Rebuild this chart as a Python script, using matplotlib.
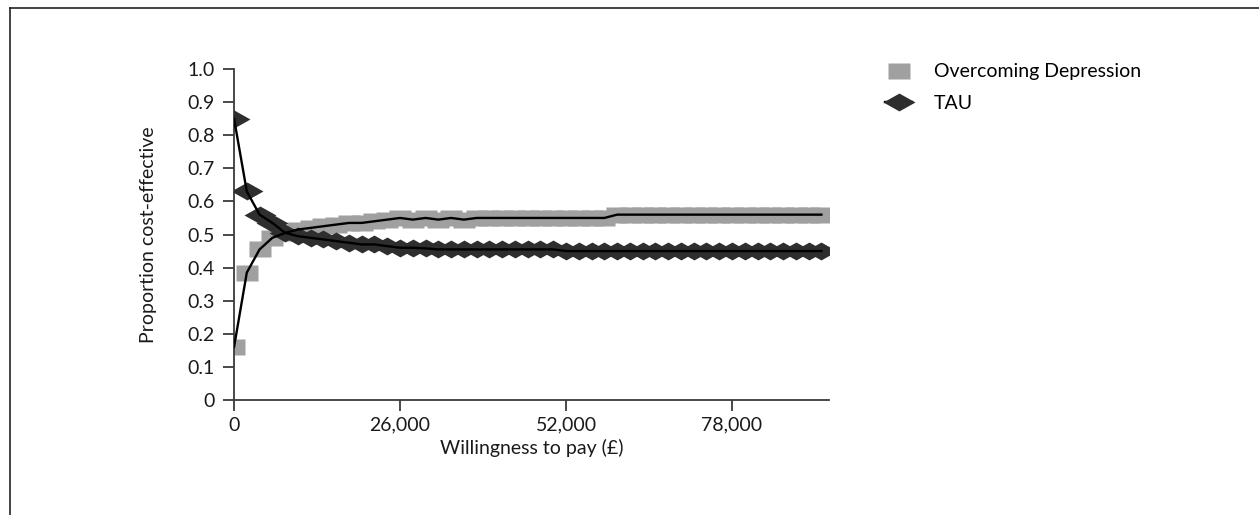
import matplotlib
matplotlib.use("Agg")
import matplotlib.pyplot as plt
from matplotlib.lines import Line2D

plt.rcParams['font.family'] = ['Lato', 'DejaVu Sans']

# willingness to pay (GBP), one point per 2,000
wtp = list(range(0, 92001, 2000))

overcoming = [0.16, 0.385, 0.455, 0.49, 0.505, 0.515, 0.52, 0.525, 0.53, 0.535,
              0.535, 0.54, 0.545, 0.55, 0.545, 0.55, 0.545, 0.55, 0.545, 0.55,
              0.55, 0.55, 0.55, 0.55, 0.55, 0.55, 0.55, 0.55, 0.55, 0.55,
              0.56, 0.56, 0.56, 0.56, 0.56, 0.56, 0.56, 0.56, 0.56, 0.56,
              0.56, 0.56, 0.56, 0.56, 0.56, 0.56, 0.56]

tau = [0.85, 0.63, 0.56, 0.535, 0.505, 0.495, 0.49, 0.485, 0.48, 0.475,
       0.47, 0.47, 0.465, 0.46, 0.46, 0.458,
       0.455, 0.455, 0.455, 0.455, 0.455, 0.455, 0.455, 0.455, 0.455, 0.455,
       0.45, 0.45, 0.45, 0.45, 0.45, 0.45, 0.45, 0.45, 0.45, 0.45, 0.45,
       0.45, 0.45, 0.45, 0.45, 0.45, 0.45, 0.45, 0.45, 0.45, 0.45]

xticks = [0, 26000, 52000, 78000]
yticks = [0, 0.1, 0.2, 0.3, 0.4, 0.5, 0.6, 0.7, 0.8, 0.9, 1.0]
ytick_labels = ['0', '0.1', '0.2', '0.3', '0.4', '0.5', '0.6', '0.7', '0.8', '0.9', '1.0']

# flattened marker shapes
sq = [(-1, -0.7), (1, -0.7), (1, 0.7), (-1, 0.7), (-1, -0.7)]
dia = [(-1, 0), (0, 0.56), (1, 0), (0, -0.56), (-1, 0)]

fig = plt.figure(figsize=(12.59, 5.15), dpi=100)
ax = fig.add_axes([0.1859, 0.2233, 0.4726, 0.6427])

ax.plot(wtp, overcoming, ls='none', marker=sq, ms=16, mfc='#a0a0a0', mec='none', zorder=2)
ax.plot(wtp, tau, ls='none', marker=dia, ms=23, mfc='#2e2e2e', mec='none', zorder=3)
ax.plot(wtp, overcoming, color='black', lw=1.7, zorder=4)
ax.plot(wtp, tau, color='black', lw=1.7, zorder=4)

ax.set_xlim(0, 93200)
ax.set_ylim(0, 1.0)
ax.set_xticks(xticks)
ax.set_xticklabels([f'{v:,}' for v in xticks])
ax.set_yticks(yticks)
ax.set_yticklabels(ytick_labels)

for s in ['top', 'right']:
    ax.spines[s].set_visible(False)
for s in ['left', 'bottom']:
    ax.spines[s].set_color('#3a3a3a')
    ax.spines[s].set_linewidth(1.3)
ax.spines['left'].set_position(('data', 0))
ax.tick_params(axis='both', direction='out', length=8, width=1.3, color='#3a3a3a',
               labelsize=14, labelcolor='#1a1a1a')
ax.tick_params(axis='y', pad=6)
ax.tick_params(axis='x', pad=4)

ax.set_xlabel('Willingness to pay (£)', fontsize=14, color='#1a1a1a', labelpad=4)
ax.set_ylabel('Proportion cost-effective', fontsize=14, color='#1a1a1a', labelpad=22)

handles = [
    Line2D([], [], ls='none', marker=sq, ms=16, mfc='#a0a0a0', mec='none'),
    Line2D([], [], color='black', lw=1.7, marker=dia, ms=23, mfc='#2e2e2e', mec='none'),
]
fig.legend(handles, ['Overcoming Depression', 'TAU'], loc='upper left',
           bbox_to_anchor=(0.689, 0.911), frameon=False, fontsize=14,
           handlelength=1.4, handletextpad=1.1, labelspacing=0.75)

# outer frame, top and left edges
fig.add_artist(Line2D([0.0079, 1.0], [0.984, 0.984], color='#222222', lw=1.2))
fig.add_artist(Line2D([0.0079, 0.0079], [0.0, 0.984], color='#222222', lw=1.2))

fig.savefig('out.png', dpi=100)
